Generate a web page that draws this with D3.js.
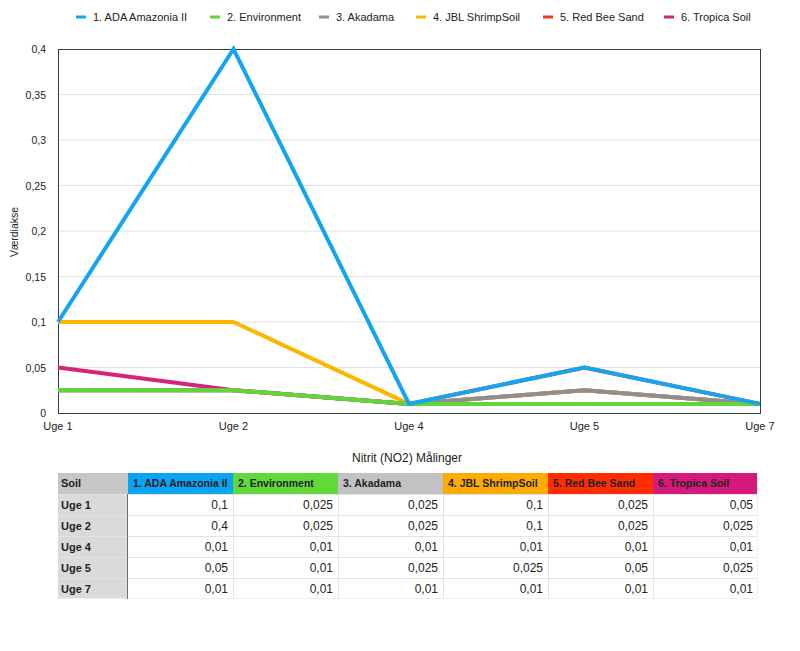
<!DOCTYPE html>
<meta charset="utf-8">
<script src="https://d3js.org/d3.v7.min.js"></script>
<style>
  body { margin: 0; background: #fff; }
  svg text { font-family: "Liberation Sans", Arial, sans-serif; fill: #222; }
</style>
<div id="chart"></div>
<script>

// weeks (x categories)
var weeks = ["Uge 1", "Uge 2", "Uge 4", "Uge 5", "Uge 7"]
var soils = ["1. ADA Amazonia II", "2. Environment", "3. Akadama", "4. JBL ShrimpSoil", "5. Red Bee Sand", "6. Tropica Soil"]
var lineColors = ["#14a5f2", "#5fd63c", "#8f8f8f", "#fdb600", "#f43a1a", "#d4237b"]
var headColors = ["#0aa4f5", "#62d93a", "#c2c2c2", "#ffac00", "#ff2d00", "#d61a7c"]

// values per soil, one per week
var adaAmazonia = [0.1, 0.4, 0.01, 0.05, 0.01]
var environment = [0.025, 0.025, 0.01, 0.01, 0.01]
var akadama = [0.025, 0.025, 0.01, 0.025, 0.01]
var jblShrimpSoil = [0.1, 0.1, 0.01, 0.025, 0.01]
var redBeeSand = [0.025, 0.025, 0.01, 0.05, 0.01]
var tropicaSoil = [0.05, 0.025, 0.01, 0.025, 0.01]
var series = [adaAmazonia, environment, akadama, jblShrimpSoil, redBeeSand, tropicaSoil]

var yTicks = [0, 0.05, 0.1, 0.15, 0.2, 0.25, 0.3, 0.35, 0.4]

var width = 800
var height = 651
var svg = d3.select("#chart").append("svg").attr("width", width).attr("height", height)

var fmt = function(v){ return String(v).replace(".", ",") }

var x = d3.scalePoint().domain(weeks).range([58, 760])
var y = d3.scaleLinear().domain([0, 0.4]).range([413, 49])

// grid
svg.append("g")
  .selectAll("line")
  .data(yTicks.slice(1, -1))
  .join("line")
  .attr("x1", 58).attr("x2", 760)
  .attr("y1", d => y(d)).attr("y2", d => y(d))
  .attr("stroke", "#e2e2e2").attr("stroke-width", 1)

// frame
svg.append("rect")
  .attr("x", 58.5).attr("y", y(0.4) + 0.5)
  .attr("width", 760 - 58).attr("height", y(0) - y(0.4))
  .attr("fill", "none").attr("stroke", "#3a3a3a").attr("stroke-width", 1)

// y tick labels
svg.append("g")
  .selectAll("text")
  .data(yTicks)
  .join("text")
  .text(d => fmt(d))
  .attr("x", 46)
  .attr("y", d => y(d) + 4)
  .attr("text-anchor", "end")
  .style("font-size", "10.5px")

// x tick labels
svg.append("g")
  .selectAll("text")
  .data(weeks)
  .join("text")
  .text(d => d)
  .attr("x", d => x(d))
  .attr("y", 430)
  .attr("text-anchor", "middle")
  .style("font-size", "11px")

svg.append("text").text("Nitrit (NO2) Målinger")
  .attr("x", 407).attr("y", 462)
  .attr("text-anchor", "middle")
  .style("font-size", "12px")

svg.append("text").text("Værdiakse")
  .attr("transform", "translate(18,232) rotate(-90)")
  .attr("text-anchor", "middle")
  .style("font-size", "10.5px")

// lines - last series drawn first so ADA ends up on top
var line = d3.line().x((d, i) => x(weeks[i])).y(d => y(d))
var order = d3.range(series.length).reverse()
svg.append("g")
  .selectAll("path")
  .data(order)
  .join("path")
  .attr("d", i => line(series[i]))
  .attr("fill", "none")
  .attr("stroke", i => lineColors[i])
  .attr("stroke-width", 4)
  .attr("stroke-linejoin", "miter")

// legend
var legendX = [76, 210, 319, 416, 543, 664]
var legend = svg.append("g")
  .selectAll("g")
  .data(soils)
  .join("g")
  .attr("transform", (d, i) => "translate(" + legendX[i] + ",17)")
legend.append("line")
  .attr("x1", 0).attr("x2", 10).attr("y1", 0).attr("y2", 0)
  .attr("stroke", (d, i) => lineColors[i]).attr("stroke-width", 3)
legend.append("text")
  .text(d => d)
  .attr("x", 17).attr("y", 4)
  .style("font-size", "11px")

// table
var tableTop = 473
var rowH = 21
var col0 = 58, col1 = 128, tableRight = 758
var cx = d3.scaleLinear().domain([0, soils.length]).range([col1, tableRight])
var ry = d3.scaleLinear().domain([0, weeks.length + 1]).range([tableTop, tableTop + rowH * (weeks.length + 1)])

var table = svg.append("g")

// header
table.append("rect").attr("x", col0).attr("y", ry(0)).attr("width", col1 - col0).attr("height", rowH).attr("fill", "#c6c6c6")
table.append("text").text("Soil").attr("x", col0 + 3).attr("y", ry(0) + 14)
  .style("font-size", "11px").style("font-weight", "bold")
table.selectAll(".head")
  .data(soils)
  .join("rect")
  .attr("x", (d, i) => cx(i)).attr("y", ry(0))
  .attr("width", cx(1) - cx(0)).attr("height", rowH)
  .attr("fill", (d, i) => headColors[i])
table.selectAll(".headText")
  .data(soils)
  .join("text")
  .text(d => d)
  .attr("x", (d, i) => cx(i) + 5).attr("y", ry(0) + 14)
  .style("font-size", "10.5px").style("font-weight", "bold")

// row label cells
table.selectAll(".rowLab")
  .data(weeks)
  .join("rect")
  .attr("x", col0).attr("y", (d, i) => ry(i + 1))
  .attr("width", col1 - col0).attr("height", rowH)
  .attr("fill", "#dadada")
table.selectAll(".rowLabText")
  .data(weeks)
  .join("text")
  .text(d => d)
  .attr("x", col0 + 3).attr("y", (d, i) => ry(i + 1) + 14.5)
  .style("font-size", "11px").style("font-weight", "bold")

// row borders
table.selectAll(".rowLine")
  .data(d3.range(1, weeks.length + 1))
  .join("line")
  .attr("x1", col0).attr("x2", tableRight)
  .attr("y1", i => ry(i) + 0.5).attr("y2", i => ry(i) + 0.5)
  .attr("stroke", "#e4e4e4")
table.append("line")
  .attr("x1", col0).attr("x2", tableRight)
  .attr("y1", ry(weeks.length + 1) - 0.5).attr("y2", ry(weeks.length + 1) - 0.5)
  .attr("stroke", "#e6f4e4")
// column borders
table.selectAll(".colLine")
  .data(d3.range(1, soils.length))
  .join("line")
  .attr("x1", i => cx(i) + 0.5).attr("x2", i => cx(i) + 0.5)
  .attr("y1", ry(1)).attr("y2", ry(weeks.length + 1))
  .attr("stroke", "#e4e4e4")
table.append("line")
  .attr("x1", tableRight - 0.5).attr("x2", tableRight - 0.5)
  .attr("y1", ry(0)).attr("y2", ry(weeks.length + 1))
  .attr("stroke", "#e6f4e4")
table.append("line")
  .attr("x1", col1 - 0.5).attr("x2", col1 - 0.5)
  .attr("y1", ry(1)).attr("y2", ry(weeks.length + 1))
  .attr("stroke", "#707070")

// values
series.forEach(function(vals, si){
  table.append("g")
    .selectAll("text")
    .data(vals)
    .join("text")
    .text(d => fmt(d))
    .attr("x", cx(si + 1) - 5)
    .attr("y", (d, i) => ry(i + 1) + 15)
    .attr("text-anchor", "end")
    .style("font-size", "12px")
})

</script>
